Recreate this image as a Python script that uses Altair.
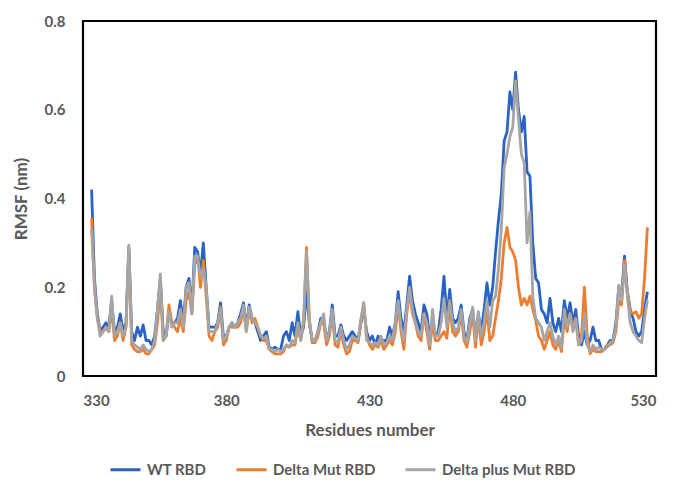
import altair as alt
import pandas as pd

residues = list(range(333, 528))

wt_rbd = [
    0.42, 0.22, 0.14, 0.10, 0.11, 0.12, 0.11, 0.17, 0.10, 0.11,
    0.14, 0.10, 0.12, 0.29, 0.10, 0.08, 0.11, 0.09, 0.115, 0.08,
    0.08, 0.07, 0.09, 0.15, 0.22, 0.10, 0.09, 0.14, 0.12, 0.12,
    0.13, 0.17, 0.12, 0.20, 0.22, 0.15, 0.29, 0.28, 0.23, 0.30,
    0.20, 0.11, 0.11, 0.11, 0.12, 0.165, 0.09, 0.09, 0.11, 0.12,
    0.11, 0.12, 0.14, 0.165, 0.11, 0.16, 0.13, 0.12, 0.10, 0.08,
    0.09, 0.10, 0.065, 0.06, 0.065, 0.06, 0.06, 0.09, 0.10, 0.08,
    0.12, 0.09, 0.145, 0.09, 0.11, 0.19, 0.12, 0.08, 0.08, 0.10,
    0.13, 0.12, 0.09, 0.10, 0.16, 0.09, 0.09, 0.115, 0.09, 0.08,
    0.09, 0.10, 0.09, 0.08, 0.12, 0.15, 0.10, 0.08, 0.09, 0.07,
    0.09, 0.08, 0.08, 0.08, 0.11, 0.09, 0.12, 0.19, 0.13, 0.10,
    0.16, 0.225, 0.17, 0.14, 0.12, 0.10, 0.16, 0.14, 0.09, 0.11,
    0.09, 0.10, 0.15, 0.225, 0.13, 0.195, 0.13, 0.12, 0.13, 0.16,
    0.10, 0.08, 0.13, 0.15, 0.09, 0.14, 0.10, 0.15, 0.21, 0.16,
    0.20, 0.28, 0.35, 0.41, 0.53, 0.55, 0.64, 0.60, 0.685, 0.60,
    0.55, 0.585, 0.46, 0.45, 0.30, 0.22, 0.21, 0.15, 0.14, 0.12,
    0.175, 0.12, 0.10, 0.13, 0.10, 0.17, 0.13, 0.165, 0.12, 0.15,
    0.09, 0.07, 0.10, 0.07, 0.08, 0.11, 0.08, 0.08, 0.06, 0.06,
    0.07, 0.08, 0.08, 0.12, 0.20, 0.18, 0.27, 0.19, 0.15, 0.13,
    0.10, 0.09, 0.10, 0.15, 0.19,
]

delta_mut = [
    0.355, 0.20, 0.13, 0.10, 0.10, 0.11, 0.10, 0.15, 0.08, 0.09,
    0.12, 0.08, 0.11, 0.28, 0.07, 0.06, 0.055, 0.055, 0.06, 0.05,
    0.05, 0.06, 0.07, 0.12, 0.20, 0.08, 0.09, 0.16, 0.12, 0.11,
    0.10, 0.13, 0.10, 0.17, 0.19, 0.14, 0.25, 0.27, 0.20, 0.26,
    0.18, 0.09, 0.08, 0.10, 0.11, 0.155, 0.07, 0.08, 0.11, 0.11,
    0.11, 0.11, 0.12, 0.15, 0.10, 0.15, 0.12, 0.13, 0.11, 0.09,
    0.08, 0.08, 0.06, 0.055, 0.05, 0.05, 0.05, 0.055, 0.07, 0.065,
    0.07, 0.07, 0.11, 0.08, 0.12, 0.29, 0.13, 0.075, 0.075, 0.09,
    0.12, 0.12, 0.07, 0.09, 0.14, 0.07, 0.065, 0.10, 0.07, 0.05,
    0.055, 0.08, 0.08, 0.075, 0.12, 0.165, 0.09, 0.07, 0.06, 0.07,
    0.065, 0.08, 0.06, 0.07, 0.08, 0.07, 0.10, 0.16, 0.10, 0.06,
    0.14, 0.19, 0.14, 0.12, 0.09, 0.08, 0.14, 0.10, 0.06, 0.12,
    0.08, 0.08, 0.09, 0.10, 0.085, 0.16, 0.10, 0.09, 0.10, 0.14,
    0.08, 0.065, 0.10, 0.14, 0.065, 0.13, 0.07, 0.10, 0.15, 0.08,
    0.09, 0.13, 0.17, 0.22, 0.30, 0.335, 0.29, 0.28, 0.26, 0.20,
    0.16, 0.175, 0.16, 0.18, 0.15, 0.125, 0.09, 0.08, 0.06, 0.08,
    0.10, 0.07, 0.06, 0.08, 0.055, 0.13, 0.10, 0.14, 0.11, 0.13,
    0.07, 0.09, 0.20, 0.09, 0.05, 0.06, 0.055, 0.055, 0.055, 0.06,
    0.07, 0.07, 0.075, 0.10, 0.17, 0.16, 0.26, 0.19, 0.145, 0.14,
    0.145, 0.13, 0.14, 0.22, 0.335,
]

delta_plus_mut = [
    0.33, 0.20, 0.13, 0.09, 0.10, 0.11, 0.10, 0.18, 0.09, 0.10,
    0.12, 0.09, 0.11, 0.295, 0.08, 0.07, 0.065, 0.06, 0.07, 0.06,
    0.055, 0.06, 0.08, 0.15, 0.23, 0.08, 0.09, 0.145, 0.11, 0.12,
    0.12, 0.15, 0.11, 0.20, 0.21, 0.14, 0.27, 0.27, 0.22, 0.24,
    0.20, 0.10, 0.10, 0.10, 0.12, 0.15, 0.08, 0.09, 0.11, 0.12,
    0.11, 0.12, 0.13, 0.16, 0.10, 0.155, 0.13, 0.12, 0.11, 0.09,
    0.085, 0.09, 0.06, 0.06, 0.055, 0.06, 0.055, 0.06, 0.07, 0.065,
    0.08, 0.075, 0.12, 0.08, 0.13, 0.28, 0.12, 0.08, 0.08, 0.10,
    0.12, 0.14, 0.08, 0.10, 0.15, 0.08, 0.075, 0.11, 0.08, 0.06,
    0.07, 0.09, 0.085, 0.08, 0.13, 0.165, 0.08, 0.075, 0.07, 0.075,
    0.07, 0.09, 0.07, 0.075, 0.09, 0.08, 0.12, 0.17, 0.11, 0.08,
    0.15, 0.20, 0.15, 0.12, 0.10, 0.09, 0.14, 0.12, 0.07, 0.15,
    0.09, 0.09, 0.12, 0.175, 0.11, 0.17, 0.12, 0.10, 0.11, 0.15,
    0.09, 0.075, 0.12, 0.155, 0.08, 0.145, 0.09, 0.12, 0.17, 0.11,
    0.17, 0.18, 0.24, 0.33, 0.47, 0.50, 0.54, 0.56, 0.665, 0.58,
    0.50, 0.48, 0.30, 0.37, 0.18, 0.13, 0.12, 0.11, 0.08, 0.10,
    0.12, 0.09, 0.07, 0.09, 0.065, 0.15, 0.11, 0.14, 0.10, 0.13,
    0.07, 0.08, 0.14, 0.07, 0.055, 0.07, 0.06, 0.065, 0.06, 0.06,
    0.065, 0.075, 0.08, 0.11, 0.205, 0.17, 0.25, 0.18, 0.12, 0.10,
    0.09, 0.08, 0.075, 0.13, 0.17,
]

series_names = ["WT RBD", "Delta Mut RBD", "Delta plus Mut RBD"]
series_colors = ["#2A63C4", "#ED7D31", "#A5A5A5"]
x_ticks = [330, 380, 430, 480, 530]
y_ticks = [0, 0.2, 0.4, 0.6, 0.8]

rows = []
for name, vals in zip(series_names, [wt_rbd, delta_mut, delta_plus_mut]):
    for r, v in zip(residues, vals):
        rows.append({"residue": r, "rmsf": v, "series": name})
df = pd.DataFrame(rows)

FONT = "Lato"
GRAY = "#595959"

chart = (
    alt.Chart(df)
    .mark_line(strokeWidth=2.8, strokeJoin="round")
    .encode(
        x=alt.X(
            "residue:Q",
            scale=alt.Scale(domain=[330, 530], nice=False),
            axis=alt.Axis(
                values=x_ticks,
                title="Residues number",
                grid=False,
                domain=False,
                ticks=False,
                labelPadding=17,
                labelFontSize=15,
                labelFontWeight="bold",
                labelColor=GRAY,
                labelFont=FONT,
                titleFontSize=17,
                titleFontWeight="bold",
                titleColor=GRAY,
                titleFont=FONT,
                titlePadding=14,
            ),
        ),
        y=alt.Y(
            "rmsf:Q",
            scale=alt.Scale(domain=[0, 0.8], nice=False),
            axis=alt.Axis(
                values=y_ticks,
                format=".1~f",
                title="RMSF (nm)",
                grid=False,
                domain=False,
                ticks=False,
                labelPadding=18,
                labelFontSize=15,
                labelFontWeight="bold",
                labelColor=GRAY,
                labelFont=FONT,
                titleFontSize=17,
                titleFontWeight="bold",
                titleColor=GRAY,
                titleFont=FONT,
                titlePadding=14,
            ),
        ),
        color=alt.Color(
            "series:N",
            scale=alt.Scale(domain=series_names, range=series_colors),
            sort=series_names,
            legend=alt.Legend(
                orient="none",
                direction="horizontal",
                legendX=26,
                legendY=432,
                title=None,
                symbolType="stroke",
                symbolStrokeWidth=3,
                symbolSize=900,
                labelFontSize=15,
                labelFontWeight="bold",
                labelColor=GRAY,
                labelFont=FONT,
                columnPadding=23,
                labelOffset=5,
            ),
        ),
    )
    .properties(
        width=573,
        height=355,
        background="white",
        autosize=alt.AutoSizeParams(type="none"),
        padding={"left": 75, "top": 13, "right": 9, "bottom": 112},
    )
    .configure_view(stroke="black", strokeWidth=2.2)
)

chart.save("out.html", embed_options={"renderer": "svg", "actions": False})
